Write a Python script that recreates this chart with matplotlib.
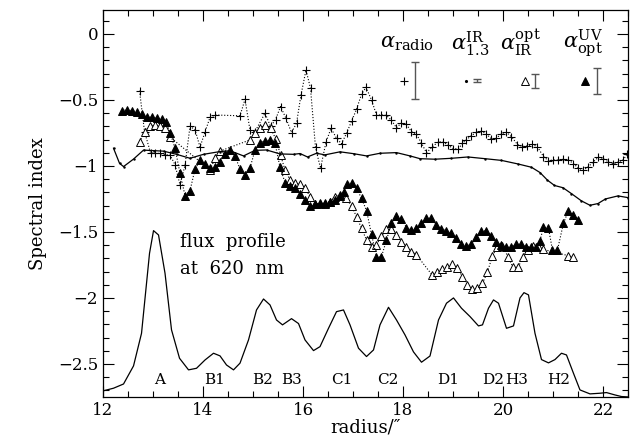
import matplotlib
matplotlib.use("Agg")
import matplotlib.pyplot as plt
import numpy as np
from matplotlib.ticker import MultipleLocator, FuncFormatter

plt.rcParams['font.family'] = ['DejaVu Serif']
plt.rcParams['mathtext.fontset'] = 'dejavuserif'

# spectral index alpha_radio
radio_x = [12.73, 12.83, 12.95, 13.04, 13.13, 13.24, 13.34, 13.44, 13.54, 13.64,
           13.74, 13.84, 13.94, 14.04, 14.14, 14.24, 14.74, 14.84, 14.94, 15.04,
           15.24, 15.35, 15.45, 15.55, 15.66, 15.77, 15.87, 15.96, 16.06, 16.15,
           16.25, 16.35, 16.46, 16.56, 16.67, 16.77, 16.87, 16.97, 17.07, 17.17,
           17.26, 17.37, 17.47, 17.57, 17.67, 17.77, 17.87, 17.96, 18.06, 18.17,
           18.27, 18.37, 18.47, 18.59, 18.71, 18.81, 18.91, 19.01, 19.11, 19.19,
           19.27, 19.37, 19.47, 19.57, 19.67, 19.77, 19.87, 19.97, 20.07, 20.17,
           20.29, 20.39, 20.49, 20.59, 20.69, 20.81, 20.91, 21.01, 21.11, 21.21,
           21.31, 21.41, 21.51, 21.61, 21.71, 21.81, 21.91, 22.01, 22.11, 22.21,
           22.31, 22.41, 22.48]
radio_y = [-0.43, -0.74, -0.90, -0.905, -0.905, -0.915, -0.917, -0.99, -1.144, -0.995,
           -0.70, -0.725, -0.857, -0.743, -0.632, -0.614, -0.62, -0.495, -0.73, -0.74,
           -0.60, -0.70, -0.65, -0.55, -0.64, -0.747, -0.677, -0.462, -0.273, -0.412,
           -0.86, -1.018, -0.82, -0.715, -0.79, -0.832, -0.753, -0.662, -0.571, -0.457,
           -0.404, -0.50, -0.614, -0.614, -0.617, -0.655, -0.71, -0.677, -0.682, -0.74,
           -0.76, -0.828, -0.90, -0.854, -0.816, -0.82, -0.845, -0.87, -0.87, -0.828,
           -0.80, -0.77, -0.744, -0.736, -0.76, -0.795, -0.79, -0.755, -0.746, -0.778,
           -0.838, -0.853, -0.848, -0.837, -0.856, -0.929, -0.96, -0.955, -0.955, -0.949,
           -0.955, -0.982, -1.018, -1.032, -1.005, -0.967, -0.934, -0.945, -0.97, -0.985,
           -0.97, -0.952, -0.91]

# spectral index alpha IR 1.3
ir_x = [12.21, 12.33, 12.41, 12.61, 12.81, 13.01, 13.21, 13.47, 13.74, 14.01,
        14.34, 14.54, 14.81, 15.04, 15.27, 15.54, 15.81, 15.94, 16.09, 16.27,
        16.44, 16.74, 17.01, 17.27, 17.54, 17.87, 18.14, 18.34, 18.64, 18.97,
        19.3, 19.64, 19.97, 20.3, 20.57, 20.74, 20.89, 21.03, 21.2, 21.37,
        21.57, 21.74, 21.9, 22.05, 22.3, 22.5]
ir_y = [-0.866, -0.98, -1.005, -0.948, -0.88, -0.884, -0.888, -0.912, -0.942, -0.912,
        -0.891, -0.885, -0.924, -0.882, -0.879, -0.909, -0.912, -0.906, -0.932, -0.904,
        -0.916, -0.893, -0.907, -0.924, -0.904, -0.899, -0.924, -0.945, -0.949, -0.942,
        -0.932, -0.945, -0.958, -0.985, -1.01, -1.05, -1.108, -1.148, -1.165, -1.21,
        -1.265, -1.298, -1.285, -1.25, -1.227, -1.24]

# spectral index alpha opt/IR
optir_x = [12.73, 12.83, 12.93, 13.03, 13.13, 13.23, 13.33, 14.14, 14.24, 14.34,
           14.94, 15.04, 15.14, 15.24, 15.35, 15.46, 15.55, 15.64, 15.74, 15.84,
           15.94, 16.04, 16.14, 16.24, 16.34, 16.44, 16.54, 16.64, 16.74, 16.86,
           16.97, 17.07, 17.17, 17.27, 17.37, 17.47, 17.57, 17.67, 17.77, 17.87,
           17.97, 18.07, 18.17, 18.27, 18.59, 18.69, 18.79, 18.89, 18.99, 19.09,
           19.19, 19.29, 19.39, 19.49, 19.59, 19.69, 19.79, 19.89, 19.99, 20.10,
           20.20, 20.30, 20.41, 20.51, 20.61, 20.71, 20.81, 21.31, 21.41]
optir_y = [-0.816, -0.74, -0.70, -0.687, -0.70, -0.715, -0.778, -1.03, -0.942, -0.887,
           -0.803, -0.747, -0.715, -0.689, -0.715, -0.798, -0.917, -1.03, -1.106, -1.126,
           -1.14, -1.165, -1.232, -1.285, -1.288, -1.288, -1.27, -1.232, -1.22, -1.245,
           -1.303, -1.384, -1.472, -1.561, -1.616, -1.598, -1.53, -1.48, -1.48, -1.523,
           -1.573, -1.616, -1.649, -1.674, -1.83, -1.805, -1.78, -1.763, -1.746, -1.772,
           -1.84, -1.905, -1.934, -1.927, -1.889, -1.803, -1.68, -1.611, -1.608, -1.687,
           -1.768, -1.768, -1.687, -1.636, -1.608, -1.61, -1.633, -1.68, -1.692]

# spectral index alpha UV/opt
uv_x = [12.37, 12.47, 12.57, 12.67, 12.77, 12.87, 12.97, 13.07, 13.17, 13.26,
        13.34, 13.44, 13.54, 13.64, 13.74, 13.84, 13.94, 14.04, 14.14, 14.24,
        14.34, 14.44, 14.54, 14.64, 14.74, 14.84, 14.94, 15.04, 15.14, 15.24,
        15.34, 15.44, 15.54, 15.64, 15.74, 15.84, 15.94, 16.04, 16.14, 16.24,
        16.34, 16.44, 16.54, 16.64, 16.74, 16.82, 16.87, 16.97, 17.07, 17.17,
        17.27, 17.37, 17.47, 17.57, 17.67, 17.77, 17.87, 17.97, 18.07, 18.17,
        18.27, 18.37, 18.47, 18.57, 18.67, 18.77, 18.87, 18.97, 19.07, 19.17,
        19.27, 19.37, 19.47, 19.57, 19.67, 19.77, 19.87, 19.97, 20.07, 20.17,
        20.27, 20.37, 20.47, 20.57, 20.67, 20.74, 20.81, 20.91, 20.99, 21.09,
        21.21, 21.31, 21.41, 21.51]
uv_y = [-0.58, -0.576, -0.58, -0.59, -0.61, -0.626, -0.632, -0.635, -0.646, -0.664,
        -0.747, -0.866, -1.056, -1.225, -1.187, -1.025, -0.958, -0.985, -1.018, -1.01,
        -0.97, -0.91, -0.88, -0.924, -1.025, -1.068, -1.015, -0.88, -0.823, -0.812,
        -0.803, -0.828, -1.01, -1.126, -1.152, -1.169, -1.212, -1.258, -1.305, -1.291,
        -1.283, -1.283, -1.27, -1.258, -1.227, -1.194, -1.135, -1.126, -1.169, -1.245,
        -1.338, -1.518, -1.687, -1.687, -1.561, -1.434, -1.379, -1.402, -1.467, -1.485,
        -1.467, -1.434, -1.396, -1.396, -1.447, -1.477, -1.49, -1.51, -1.548, -1.591,
        -1.606, -1.591, -1.535, -1.49, -1.49, -1.53, -1.573, -1.598, -1.616, -1.616,
        -1.593, -1.593, -1.616, -1.616, -1.616, -1.565, -1.465, -1.472, -1.638, -1.636,
        -1.434, -1.338, -1.371, -1.409]

# flux profile at 620 nm (plotted in spectral-index units)
flux_x = [11.94, 12.21, 12.41, 12.61, 12.77, 12.93, 13.01, 13.11, 13.24, 13.37,
          13.53, 13.71, 13.87, 14.04, 14.21, 14.34, 14.47, 14.61, 14.74, 14.91,
          15.07, 15.21, 15.34, 15.47, 15.59, 15.77, 15.91, 16.04, 16.21, 16.34,
          16.51, 16.67, 16.81, 16.94, 17.11, 17.27, 17.41, 17.54, 17.71, 17.87,
          18.04, 18.21, 18.37, 18.54, 18.71, 18.87, 19.01, 19.17, 19.34, 19.51,
          19.59, 19.71, 19.81, 19.91, 20.07, 20.21, 20.34, 20.42, 20.51, 20.64,
          20.77, 20.91, 21.04, 21.17, 21.27, 21.41, 21.54, 21.74, 21.94, 22.07,
          22.24, 22.37, 22.5]
flux_y = [-2.71, -2.684, -2.652, -2.515, -2.268, -1.662, -1.49, -1.523, -1.813, -2.242,
          -2.457, -2.545, -2.533, -2.47, -2.419, -2.439, -2.508, -2.545, -2.494, -2.318,
          -2.091, -2.008, -2.053, -2.167, -2.204, -2.157, -2.194, -2.318, -2.399, -2.369,
          -2.23, -2.104, -2.091, -2.204, -2.381, -2.444, -2.394, -2.204, -2.071, -2.167,
          -2.28, -2.409, -2.487, -2.44, -2.167, -2.04, -2.0, -2.078, -2.141, -2.212,
          -2.204, -2.078, -2.015, -2.04, -2.23, -2.212, -2.0, -1.96, -1.977, -2.268,
          -2.467, -2.492, -2.467, -2.419, -2.432, -2.571, -2.697, -2.727, -2.722, -2.717,
          -2.735, -2.747, -2.75]

knot_names = ['A', 'B1', 'B2', 'B3', 'C1', 'C2', 'D1', 'D2', 'H3', 'H2']
knot_x = [13.13, 14.24, 15.19, 15.77, 16.77, 17.69, 18.91, 19.81, 20.27, 21.11]

# typical error of each index, shown as a bar next to its symbol
legend_labels = [r'$\alpha_{\rm radio}$', r'$\alpha^{\rm IR}_{1.3}$',
                 r'$\alpha^{\rm opt}_{\rm IR}$', r'$\alpha^{\rm UV}_{\rm opt}$']
legend_err = [0.14, 0.012, 0.053, 0.10]

fig = plt.figure(figsize=(6.34, 4.43), dpi=100)
ax = fig.add_axes([0.1625, 0.104, 0.828, 0.873])

dot = dict(ls=':', lw=0.8, color='black')
cross = dict(marker='+', ms=6, mew=0.8, color='black')
opentri = dict(marker='^', ms=5.5, mfc='white', mec='black', mew=0.7)
filltri = dict(marker='^', ms=5.5, mfc='black', mec='black', mew=0.7)

ax.plot(radio_x, radio_y, **dot, **{k: v for k, v in cross.items() if k != 'color'})
ax.plot(optir_x, optir_y, **dot, **opentri)
ax.plot(uv_x, uv_y, **dot, **filltri)
ax.plot(ir_x, ir_y, '-', color='black', lw=0.9, marker='.', ms=1.5)
ax.plot(flux_x, flux_y, '-', color='black', lw=0.9)

for name, xk in zip(knot_names, knot_x):
    ax.text(xk, -2.62, name, ha='center', va='center', fontsize=11)

ax.text(13.54, -1.58, 'flux  profile', fontsize=13, va='center')
ax.text(13.54, -1.78, 'at  620  nm', fontsize=13, va='center')

# legend block, upper right
leg_label_x = [18.08, 19.34, 20.34, 21.6]
leg_sym_x = [18.02, 19.26, 20.44, 21.64]
leg_bar_x = [18.24, 19.48, 20.64, 21.88]
sym_specs = [cross, dict(marker='.', ms=2.5, color='black'), opentri, filltri]
for lab, lx, sx, bx, err, spec in zip(legend_labels, leg_label_x, leg_sym_x,
                                       leg_bar_x, legend_err, sym_specs):
    ax.text(lx, -0.07, lab, ha='center', va='center', fontsize=15)
    ax.plot([sx], [-0.355], ls='none', **spec)
    ax.errorbar([bx], [-0.355], yerr=[err], fmt='none', ecolor='#555555',
                elinewidth=1.0, capsize=3, capthick=1.0)

ax.set_xlim(12, 22.5)
ax.set_ylim(-2.75, 0.18)
ax.xaxis.set_major_locator(MultipleLocator(2))
ax.xaxis.set_minor_locator(MultipleLocator(0.5))
ax.yaxis.set_major_locator(MultipleLocator(0.5))
ax.yaxis.set_minor_locator(MultipleLocator(0.1))
ax.yaxis.set_major_formatter(FuncFormatter(lambda v, p: ('%g' % v).replace('-', '\u2212')))
ax.tick_params(which='both', direction='in', top=True, right=True, labelsize=12)
ax.tick_params(which='major', length=8, width=0.8)
ax.tick_params(which='minor', length=4, width=0.8)
for s in ax.spines.values():
    s.set_linewidth(0.9)

ax.set_xlabel('radius/\u2033', fontsize=13, labelpad=0)
ax.set_ylabel('Spectral index', fontsize=13, labelpad=8)

fig.savefig('out.png', dpi=100)
